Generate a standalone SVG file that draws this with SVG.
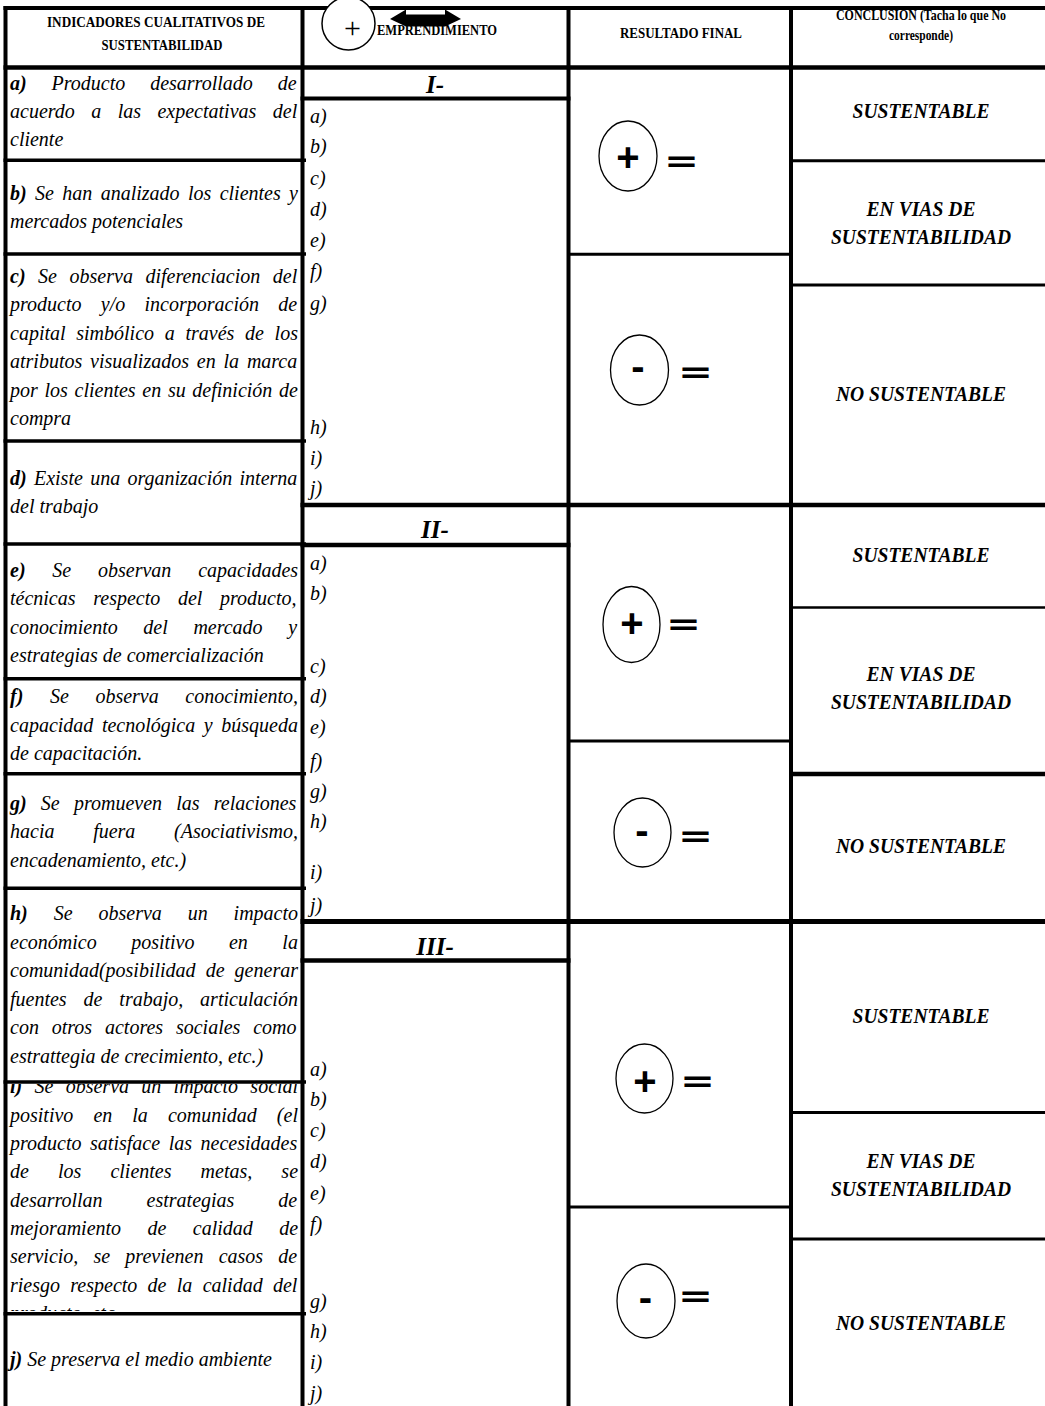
<svg xmlns="http://www.w3.org/2000/svg" width="1045" height="1406" viewBox="0 0 1045 1406">
<style>
.t{font-family:"Liberation Serif","Times New Roman",serif;fill:#000}
.ind{font-style:italic;font-size:20px}
.b{font-weight:bold}
.hd{font-weight:bold;font-size:14px;text-anchor:middle}
.con{font-weight:bold;font-style:italic;font-size:20px;text-anchor:middle}
.rom{font-weight:bold;font-style:italic;font-size:25px;text-anchor:middle}
.sym{font-family:"Liberation Sans",Arial,sans-serif;font-weight:bold;font-size:40px;text-anchor:middle;fill:#000}
.eq{font-family:"DejaVu Sans",sans-serif;font-weight:bold;font-size:30px;fill:#000}
.g line{stroke:#000;stroke-linecap:butt}
.res ellipse{fill:none;stroke:#000;stroke-width:1.3}
</style>
<defs>
<clipPath id="clipI"><rect x="5" y="1084" width="297" height="227"/></clipPath>
</defs>
<rect width="1045" height="1406" fill="#fff"/>

<g id="header">
<text class="t hd" x="156" y="27" textLength="218" lengthAdjust="spacingAndGlyphs">INDICADORES CUALITATIVOS DE</text>
<text class="t hd" x="162" y="50" textLength="121" lengthAdjust="spacingAndGlyphs">SUSTENTABILIDAD</text>
<text class="t hd" x="437" y="35" textLength="120" lengthAdjust="spacingAndGlyphs">EMPRENDIMIENTO</text>
<text class="t hd" x="681" y="38" textLength="122" lengthAdjust="spacingAndGlyphs">RESULTADO FINAL</text>
<text class="t hd" x="921" y="20" font-size="12" textLength="170" lengthAdjust="spacingAndGlyphs">CONCLUSION (Tacha lo que No</text>
<text class="t hd" x="921" y="40" font-size="12" textLength="64" lengthAdjust="spacingAndGlyphs">corresponde)</text>
</g>

<g id="indicadores">
<g id="row-a">
<text class="t ind" x="10" y="90" style="word-spacing:19.9px"><tspan class="b">a)</tspan> Producto desarrollado de</text>
<text class="t ind" x="10" y="118" style="word-spacing:11.45px">acuerdo a las expectativas del</text>
<text class="t ind" x="10" y="146">cliente</text>
</g>
<g id="row-b">
<text class="t ind" x="10" y="200" style="word-spacing:3.37px"><tspan class="b">b)</tspan> Se han analizado los clientes y</text>
<text class="t ind" x="10" y="228">mercados potenciales</text>
</g>
<g id="row-c">
<text class="t ind" x="10" y="283" style="word-spacing:7.57px"><tspan class="b">c)</tspan> Se observa diferenciacion del</text>
<text class="t ind" x="10" y="311" style="word-spacing:14.3px">producto y/o incorporación de</text>
<text class="t ind" x="10" y="340" style="word-spacing:5.71px">capital simbólico a través de los</text>
<text class="t ind" x="10" y="368" style="word-spacing:2.83px">atributos visualizados en la marca</text>
<text class="t ind" x="10" y="397" style="word-spacing:1.7px">por los clientes en su definición de</text>
<text class="t ind" x="10" y="425">compra</text>
</g>
<g id="row-d">
<text class="t ind" x="10" y="485" style="word-spacing:2.3px"><tspan class="b">d)</tspan> Existe una organización interna</text>
<text class="t ind" x="10" y="513">del trabajo</text>
</g>
<g id="row-e">
<text class="t ind" x="10" y="577" style="word-spacing:21.8px"><tspan class="b">e)</tspan> Se observan capacidades</text>
<text class="t ind" x="10" y="605" style="word-spacing:12.7px">técnicas respecto del producto,</text>
<text class="t ind" x="10" y="634" style="word-spacing:20.6px">conocimiento del mercado y</text>
<text class="t ind" x="10" y="662">estrategias de comercialización</text>
</g>
<g id="row-f">
<text class="t ind" x="10" y="703" style="word-spacing:21.6px"><tspan class="b">f)</tspan> Se observa conocimiento,</text>
<text class="t ind" x="10" y="732" style="word-spacing:3.6px">capacidad tecnológica y búsqueda</text>
<text class="t ind" x="10" y="760">de capacitación.</text>
</g>
<g id="row-g">
<text class="t ind" x="10" y="810" style="word-spacing:9.2px"><tspan class="b">g)</tspan> Se promueven las relaciones</text>
<text class="t ind" x="10" y="838" style="word-spacing:33.7px">hacia fuera (Asociativismo,</text>
<text class="t ind" x="10" y="867">encadenamiento, etc.)</text>
</g>
<g id="row-h">
<text class="t ind" x="10" y="920" style="word-spacing:20.9px"><tspan class="b">h)</tspan> Se observa un impacto</text>
<text class="t ind" x="10" y="949" style="word-spacing:29.5px">económico positivo en la</text>
<text class="t ind" x="10" y="977" style="word-spacing:5.1px">comunidad(posibilidad de generar</text>
<text class="t ind" x="10" y="1006" style="word-spacing:11.9px">fuentes de trabajo, articulación</text>
<text class="t ind" x="10" y="1034" style="word-spacing:7.85px">con otros actores sociales como</text>
<text class="t ind" x="10" y="1063">estrattegia de crecimiento, etc.)</text>
</g>
<g id="row-i" clip-path="url(#clipI)">
<text class="t ind" x="10" y="1093" style="word-spacing:7.3px"><tspan class="b">i)</tspan> Se observa un impacto social</text>
<text class="t ind" x="10" y="1122" style="word-spacing:15.05px">positivo en la comunidad (el</text>
<text class="t ind" x="10" y="1150" style="word-spacing:3.6px">producto satisface las necesidades</text>
<text class="t ind" x="10" y="1178" style="word-spacing:24.1px">de los clientes metas, se</text>
<text class="t ind" x="10" y="1207" style="word-spacing:39px">desarrollan estrategias de</text>
<text class="t ind" x="10" y="1235" style="word-spacing:21.4px">mejoramiento de calidad de</text>
<text class="t ind" x="10" y="1263" style="word-spacing:10.2px">servicio, se previenen casos de</text>
<text class="t ind" x="10" y="1292" style="word-spacing:5.3px">riesgo respecto de la calidad del</text>
<text class="t ind" x="10" y="1320">producto, etc.</text>
</g>
<g id="row-j">
<text class="t ind" x="10" y="1366"><tspan class="b">j)</tspan> Se preserva el medio ambiente</text>
</g>
</g>

<g id="emprendimiento">
<g id="sec-I">
<text class="t rom" x="435" y="93">I-</text>
<text class="t ind" x="310" y="123">a)</text>
<text class="t ind" x="310" y="153">b)</text>
<text class="t ind" x="310" y="185">c)</text>
<text class="t ind" x="310" y="216">d)</text>
<text class="t ind" x="310" y="247">e)</text>
<text class="t ind" x="310" y="278">f)</text>
<text class="t ind" x="310" y="310">g)</text>
<text class="t ind" x="310" y="434">h)</text>
<text class="t ind" x="310" y="465">i)</text>
<text class="t ind" x="310" y="495">j)</text>
</g>
<g id="sec-II">
<text class="t rom" x="435" y="538">II-</text>
<text class="t ind" x="310" y="570">a)</text>
<text class="t ind" x="310" y="600">b)</text>
<text class="t ind" x="310" y="673">c)</text>
<text class="t ind" x="310" y="703">d)</text>
<text class="t ind" x="310" y="734">e)</text>
<text class="t ind" x="310" y="768">f)</text>
<text class="t ind" x="310" y="798">g)</text>
<text class="t ind" x="310" y="828">h)</text>
<text class="t ind" x="310" y="879">i)</text>
<text class="t ind" x="310" y="912">j)</text>
</g>
<g id="sec-III">
<text class="t rom" x="435" y="955">III-</text>
<text class="t ind" x="310" y="1076">a)</text>
<text class="t ind" x="310" y="1106">b)</text>
<text class="t ind" x="310" y="1137">c)</text>
<text class="t ind" x="310" y="1168">d)</text>
<text class="t ind" x="310" y="1200">e)</text>
<text class="t ind" x="310" y="1231">f)</text>
<text class="t ind" x="310" y="1308">g)</text>
<text class="t ind" x="310" y="1338">h)</text>
<text class="t ind" x="310" y="1369">i)</text>
<text class="t ind" x="310" y="1400">j)</text>
</g>
</g>

<g id="resultado" class="res">
<g id="res-I-plus">
<ellipse cx="628" cy="156" rx="29" ry="35"/>
<text class="sym" x="628" y="171">+</text>
<text class="eq" x="664" y="171" textLength="35" lengthAdjust="spacingAndGlyphs">=</text>
</g>
<g id="res-I-minus">
<ellipse cx="639.5" cy="370" rx="29" ry="35"/>
<text class="sym" x="638" y="380">-</text>
<text class="eq" x="678" y="382" textLength="35" lengthAdjust="spacingAndGlyphs">=</text>
</g>
<g id="res-II-plus">
<ellipse cx="631.5" cy="624.5" rx="28.5" ry="38"/>
<text class="sym" x="632" y="637">+</text>
<text class="eq" x="666" y="634" textLength="35" lengthAdjust="spacingAndGlyphs">=</text>
</g>
<g id="res-II-minus">
<ellipse cx="642.5" cy="832.5" rx="28.5" ry="34.5"/>
<text class="sym" x="642" y="843.5">-</text>
<text class="eq" x="678" y="846" textLength="35" lengthAdjust="spacingAndGlyphs">=</text>
</g>
<g id="res-III-plus">
<ellipse cx="644.5" cy="1078.5" rx="28.5" ry="34.5"/>
<text class="sym" x="645" y="1095">+</text>
<text class="eq" x="680" y="1091" textLength="35" lengthAdjust="spacingAndGlyphs">=</text>
</g>
<g id="res-III-minus">
<ellipse cx="646" cy="1301" rx="29" ry="37"/>
<text class="sym" x="645.5" y="1311">-</text>
<text class="eq" x="678" y="1306" textLength="35" lengthAdjust="spacingAndGlyphs">=</text>
</g>
</g>

<g id="conclusion">
<text class="t con" x="921" y="118" textLength="137" lengthAdjust="spacingAndGlyphs">SUSTENTABLE</text>
<text class="t con" x="921" y="216" textLength="109" lengthAdjust="spacingAndGlyphs">EN VIAS DE</text>
<text class="t con" x="921" y="244" textLength="180" lengthAdjust="spacingAndGlyphs">SUSTENTABILIDAD</text>
<text class="t con" x="921" y="401" textLength="170" lengthAdjust="spacingAndGlyphs">NO SUSTENTABLE</text>
<text class="t con" x="921" y="562" textLength="137" lengthAdjust="spacingAndGlyphs">SUSTENTABLE</text>
<text class="t con" x="921" y="681" textLength="109" lengthAdjust="spacingAndGlyphs">EN VIAS DE</text>
<text class="t con" x="921" y="709" textLength="180" lengthAdjust="spacingAndGlyphs">SUSTENTABILIDAD</text>
<text class="t con" x="921" y="853" textLength="170" lengthAdjust="spacingAndGlyphs">NO SUSTENTABLE</text>
<text class="t con" x="921" y="1023" textLength="137" lengthAdjust="spacingAndGlyphs">SUSTENTABLE</text>
<text class="t con" x="921" y="1168" textLength="109" lengthAdjust="spacingAndGlyphs">EN VIAS DE</text>
<text class="t con" x="921" y="1196" textLength="180" lengthAdjust="spacingAndGlyphs">SUSTENTABILIDAD</text>
<text class="t con" x="921" y="1330" textLength="170" lengthAdjust="spacingAndGlyphs">NO SUSTENTABLE</text>
</g>

<g id="grid" class="g">
<line x1="5.5" y1="6" x2="5.5" y2="1406" stroke-width="4"/>
<line x1="302.5" y1="6" x2="302.5" y2="1406" stroke-width="4"/>
<line x1="568.5" y1="6" x2="568.5" y2="1406" stroke-width="4"/>
<line x1="791" y1="6" x2="791" y2="1406" stroke-width="4"/>
<line x1="3.5" y1="8" x2="1045" y2="8" stroke-width="4"/>
<line x1="3.5" y1="67.5" x2="1045" y2="67.5" stroke-width="4.5"/>
<line x1="300.5" y1="98.5" x2="570.5" y2="98.5" stroke-width="4"/>
<line x1="300.5" y1="505" x2="1045" y2="505" stroke-width="4.5"/>
<line x1="300.5" y1="545" x2="570.5" y2="545" stroke-width="4.5"/>
<line x1="300.5" y1="921.5" x2="1045" y2="921.5" stroke-width="5"/>
<line x1="300.5" y1="960.5" x2="570.5" y2="960.5" stroke-width="4.5"/>
<line x1="3.5" y1="160.3" x2="306" y2="160.3" stroke-width="3.5"/>
<line x1="3.5" y1="254" x2="306" y2="254" stroke-width="3.5"/>
<line x1="3.5" y1="441" x2="306" y2="441" stroke-width="3.5"/>
<line x1="3.5" y1="544" x2="306" y2="544" stroke-width="3.5"/>
<line x1="3.5" y1="678.7" x2="306" y2="678.7" stroke-width="3.5"/>
<line x1="3.5" y1="773.7" x2="306" y2="773.7" stroke-width="3.5"/>
<line x1="3.5" y1="888.3" x2="306" y2="888.3" stroke-width="3.5"/>
<line x1="3.5" y1="1082" x2="306" y2="1082" stroke-width="3.5"/>
<line x1="3.5" y1="1313.7" x2="306" y2="1313.7" stroke-width="3.5"/>
<line x1="568" y1="254.3" x2="791" y2="254.3" stroke-width="3"/>
<line x1="568" y1="741" x2="791" y2="741" stroke-width="3"/>
<line x1="568" y1="1207" x2="791" y2="1207" stroke-width="3"/>
<line x1="791" y1="160.7" x2="1045" y2="160.7" stroke-width="3"/>
<line x1="791" y1="285" x2="1045" y2="285" stroke-width="3"/>
<line x1="791" y1="607.5" x2="1045" y2="607.5" stroke-width="2.5"/>
<line x1="791" y1="774" x2="1045" y2="774" stroke-width="4.5"/>
<line x1="791" y1="1112.6" x2="1045" y2="1112.6" stroke-width="3"/>
<line x1="791" y1="1239" x2="1045" y2="1239" stroke-width="3"/>
</g>

<g id="header-marks">
<circle cx="348.5" cy="23.5" r="26.5" fill="#fff" stroke="#000" stroke-width="1.5"/>
<text class="t" x="352.5" y="37.5" font-size="30" text-anchor="middle">+</text>
<polygon points="390,19 406,9.5 406,14.5 445,14.5 445,9.5 461,19 445,26.5 406,26.5" fill="#000"/>
</g>
</svg>
